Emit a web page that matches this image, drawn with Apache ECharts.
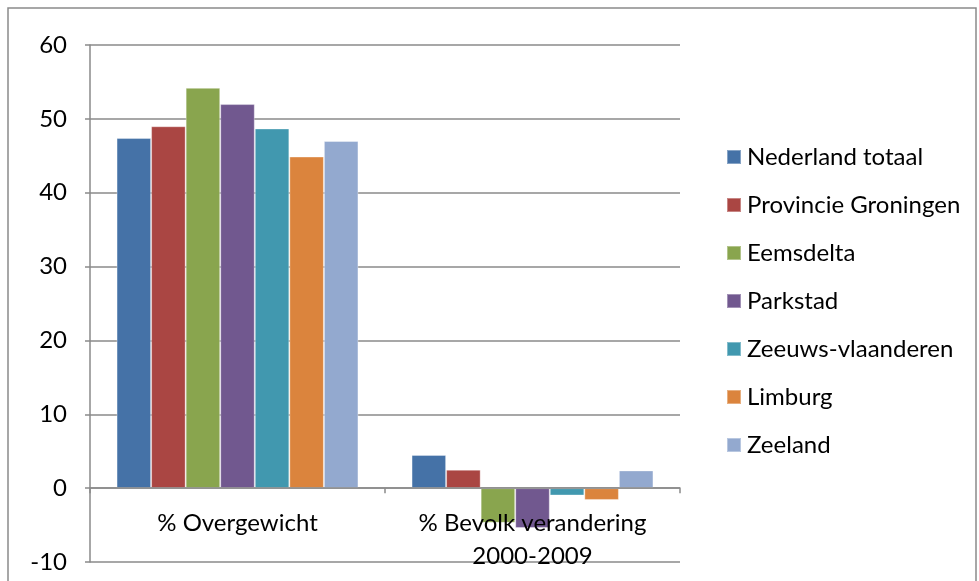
<!DOCTYPE html>
<html>
<head>
<meta charset="utf-8">
<script src="https://cdn.jsdelivr.net/npm/echarts@6/dist/echarts.min.js"></script>
<style>
  html, body { margin: 0; padding: 0; background: #ffffff; }
  #chart { width: 979px; height: 581px; }
</style>
</head>
<body>
<div id="chart"></div>
<script>
// Categories on the x axis
const categories = ['% Overgewicht', '% Bevolk verandering\n2000-2009'];

// Regions shown as series
const seriesNames = [
  'Nederland totaal',
  'Provincie Groningen',
  'Eemsdelta',
  'Parkstad',
  'Zeeuws-vlaanderen',
  'Limburg',
  'Zeeland'
];

// Values per region: [% overgewicht, % bevolkingsverandering 2000-2009]
const nederlandTotaal    = [47.4, 4.5];
const provincieGroningen = [49.0, 2.5];
const eemsdelta          = [54.2, -4.7];
const parkstad           = [52.0, -5.4];
const zeeuwsVlaanderen   = [48.7, -1.0];
const limburg            = [44.9, -1.6];
const zeeland            = [47.0, 2.4];

const seriesValues = [
  nederlandTotaal, provincieGroningen, eemsdelta, parkstad,
  zeeuwsVlaanderen, limburg, zeeland
];

const colors = ['#4572A7', '#AA4643', '#89A54E', '#71588F', '#4198AF', '#DB843D', '#93A9CF'];

const FONT = 'Lato';
const FONT_SIZE = 24;
const chart = echarts.init(document.getElementById('chart'));

chart.setOption({
  animation: false,
  backgroundColor: '#ffffff',
  color: colors,
  textStyle: { fontFamily: FONT, color: '#000000' },
  graphic: [{
    type: 'rect',
    shape: { x: 8, y: 8, width: 968, height: 580 },
    style: { fill: 'none', stroke: '#8a8a8a', lineWidth: 1.5 },
    silent: true,
    z: -1
  }],
  legend: {
    orient: 'vertical',
    left: 721,
    top: 140,
    itemWidth: 14,
    itemHeight: 14,
    itemGap: 24,
    icon: 'rect',
    textStyle: { fontFamily: FONT, fontSize: FONT_SIZE, color: '#000000', lineHeight: 24, padding: [0, 0, 0, 1] },
    data: seriesNames
  },
  grid: { left: 90, right: 299, top: 45, bottom: 19, containLabel: false, outerBoundsMode: 'none' },
  xAxis: {
    type: 'category',
    data: categories,
    z: 5,
    axisLine: { onZero: true, lineStyle: { color: '#8a8a8a', width: 1.5 } },
    axisTick: { show: true, alignWithLabel: false, length: 5, lineStyle: { color: '#8a8a8a', width: 1.5 } },
    axisLabel: {
      // labels sit just under the zero line, measured from the grid's bottom edge
      margin: -55,
      fontFamily: FONT,
      fontSize: FONT_SIZE,
      lineHeight: 33,
      color: '#000000',
      interval: 0
    }
  },
  yAxis: {
    type: 'value',
    min: -10,
    max: 60,
    interval: 10,
    axisLine: { show: true, lineStyle: { color: '#8a8a8a', width: 1.5 } },
    axisTick: { show: true, length: 5, lineStyle: { color: '#8a8a8a', width: 1.5 } },
    axisLabel: { margin: 23, fontFamily: FONT, fontSize: FONT_SIZE, color: '#000000' },
    splitLine: { show: true, lineStyle: { color: '#8a8a8a', width: 1.5 } }
  },
  series: seriesNames.map((name, i) => ({
    name: name,
    type: 'bar',
    data: seriesValues[i],
    barGap: '0%',
    barCategoryGap: '18%',
    itemStyle: { color: colors[i], borderColor: 'rgba(255,255,255,0.35)', borderWidth: 1 }
  }))
});
</script>
</body>
</html>
